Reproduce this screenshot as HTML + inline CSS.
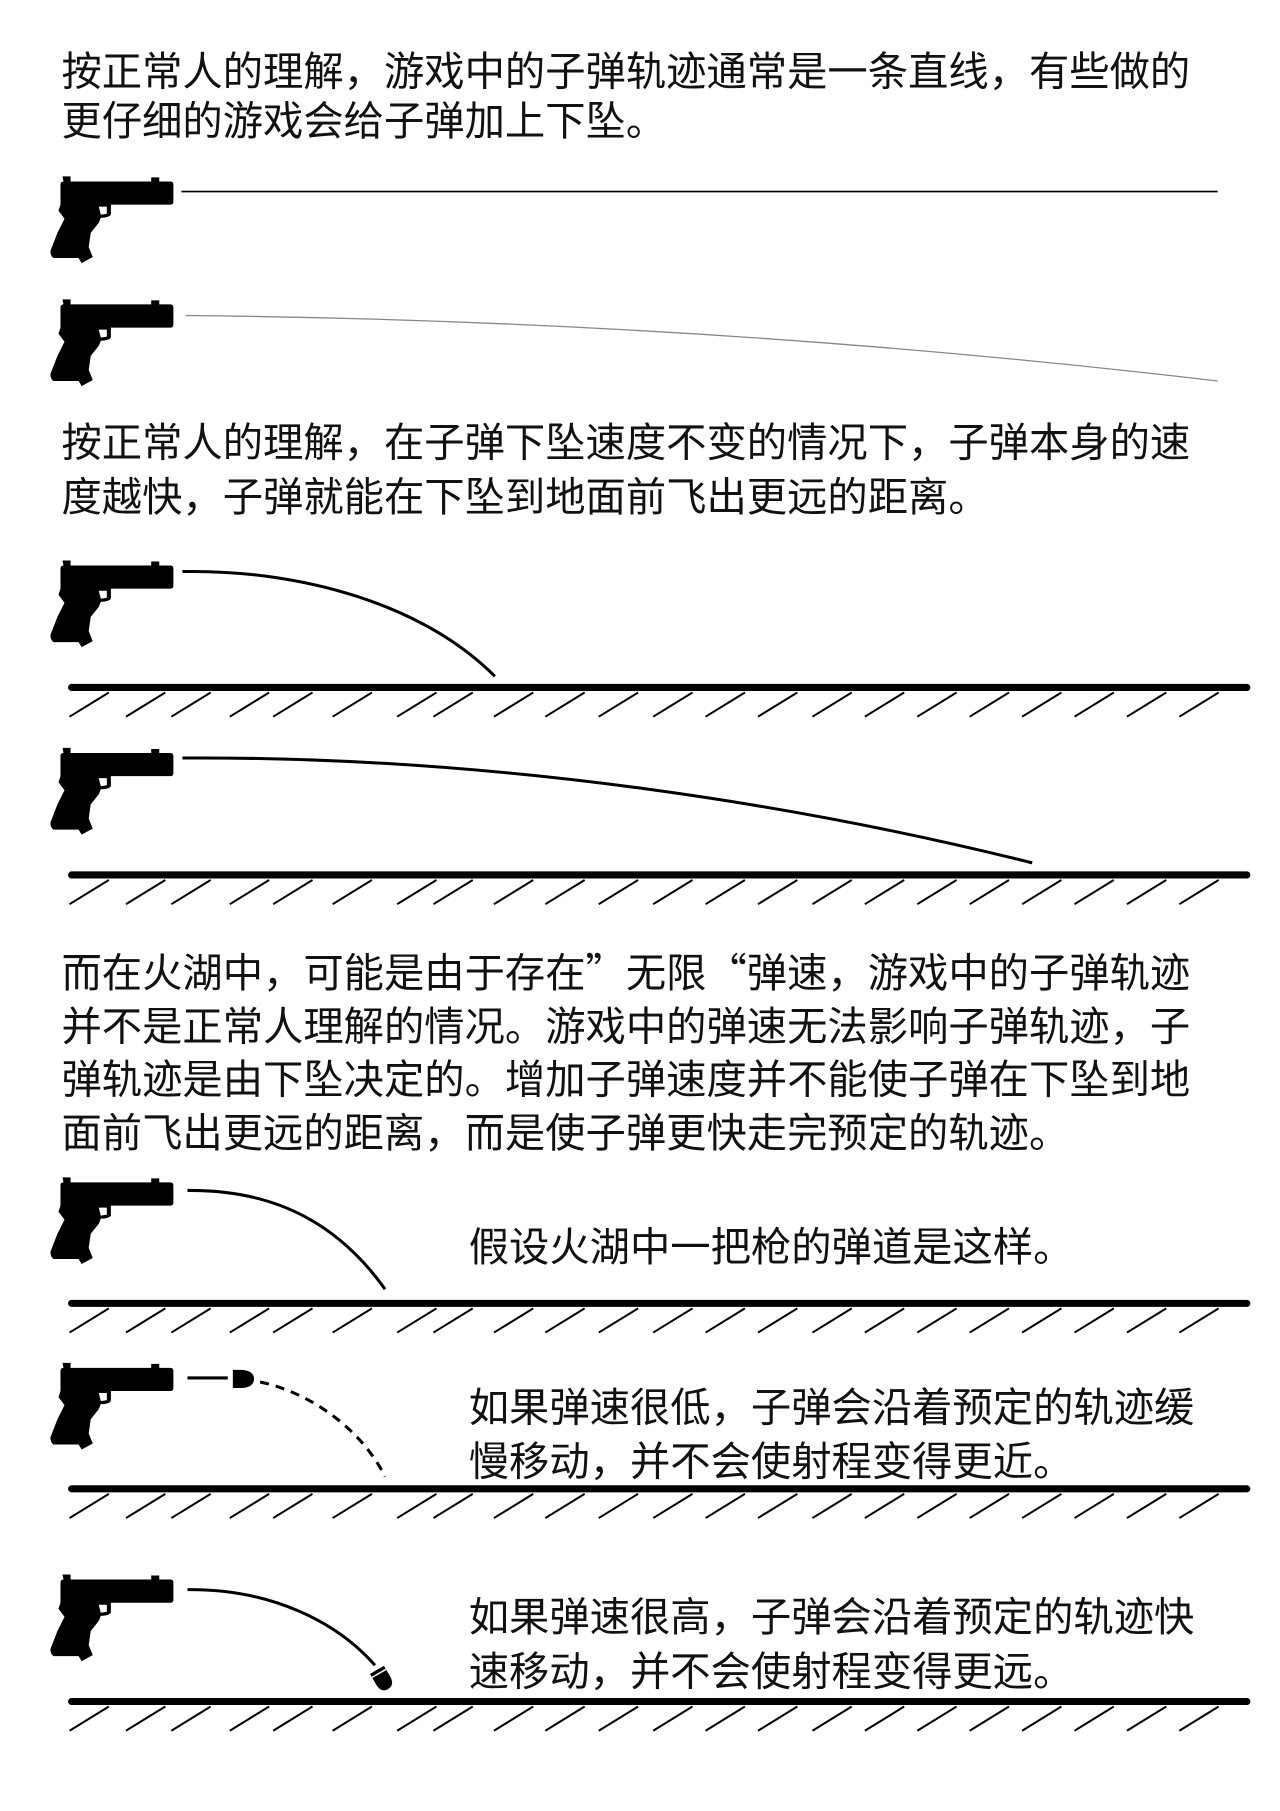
<!DOCTYPE html>
<html><head><meta charset="utf-8"><style>
html,body{margin:0;padding:0;background:#fff}
svg{display:block}
text{font-family:"Noto Sans CJK SC","Liberation Sans",sans-serif;font-size:40px;fill:#111}
</style></head><body>
<svg width="1280" height="1811" viewBox="0 0 1280 1811" xmlns="http://www.w3.org/2000/svg">
<defs>
<g id="gun">
<path d="M10 8 Q10 5 13 5 L12 0 L20 0 L20 5 L100 5 L100 1 L108 1 L108 5 L119 5 Q122 5 122 8 L122 25 Q122 28 119 28 L60 28 L60 38 Q58 41 50 41 L48 46 L40 56 L38 70 L42 80 L31 86 L28 81 L3 81 Q0 79 0 74 L7 56 L14 42 L8 34 L10 28 Z" fill="#000"/>
<path d="M48 30 L56 30 L56 37 L50 38 Z" fill="#fff"/>
</g>
<g id="h" stroke="#000" stroke-width="2">
<line x1="69" y1="25" x2="108" y2="1"/><line x1="125" y1="25" x2="164" y2="1"/><line x1="170" y1="25" x2="209" y2="1"/><line x1="228" y1="25" x2="267" y2="1"/><line x1="271" y1="25" x2="310" y2="1"/><line x1="330" y1="25" x2="369" y2="1"/><line x1="394" y1="25" x2="433" y2="1"/><line x1="430" y1="25" x2="469" y2="1"/><line x1="490" y1="25" x2="529" y2="1"/><line x1="541" y1="25" x2="580" y2="1"/><line x1="594" y1="25" x2="633" y2="1"/><line x1="648" y1="25" x2="687" y2="1"/><line x1="700" y1="25" x2="739" y2="1"/><line x1="752" y1="25" x2="791" y2="1"/><line x1="806" y1="25" x2="845" y2="1"/><line x1="858" y1="25" x2="897" y2="1"/><line x1="910" y1="25" x2="949" y2="1"/><line x1="962" y1="25" x2="1001" y2="1"/><line x1="1014" y1="25" x2="1053" y2="1"/><line x1="1066" y1="25" x2="1105" y2="1"/><line x1="1118" y1="25" x2="1157" y2="1"/><line x1="1170" y1="25" x2="1209" y2="1"/>
</g>
</defs>
<g transform="scale(1.008)">
<text x="61" y="85">按正常人的理解，游戏中的子弹轨迹通常是一条直线，有些做的</text>
<text x="61" y="134">更仔细的游戏会给子弹加上下坠。</text>

<use href="#gun" x="50" y="175"/>
<line x1="180" y1="190" x2="1208" y2="190" stroke="#000" stroke-width="1.6"/>

<use href="#gun" x="50" y="297"/>
<path d="M184 313 Q700 318 1208 378" fill="none" stroke="#888" stroke-width="1.3"/>

<text x="61" y="453">按正常人的理解，在子弹下坠速度不变的情况下，子弹本身的速</text>
<text x="61" y="507">度越快，子弹就能在下坠到地面前飞出更远的距离。</text>

<use href="#gun" x="50" y="556"/>
<path d="M181 567 C300 565 420 600 491 671" fill="none" stroke="#000" stroke-width="3"/>
<line x1="71" y1="682" x2="1237" y2="682" stroke="#000" stroke-width="7" stroke-linecap="round"/>
<use href="#h" y="686"/>

<use href="#gun" x="50" y="742"/>
<path d="M181 752 C500 750 800 800 1024 856" fill="none" stroke="#000" stroke-width="3"/>
<line x1="71" y1="868" x2="1237" y2="868" stroke="#000" stroke-width="7" stroke-linecap="round"/>
<use href="#h" y="872"/>

<text x="61" y="979">而在火湖中，可能是由于存在”无限“弹速，游戏中的子弹轨迹</text>
<text x="61" y="1032">并不是正常人理解的情况。游戏中的弹速无法影响子弹轨迹，子</text>
<text x="61" y="1085">弹轨迹是由下坠决定的。增加子弹速度并不能使子弹在下坠到地</text>
<text x="61" y="1138">面前飞出更远的距离，而是使子弹更快走完预定的轨迹。</text>

<use href="#gun" x="50" y="1168"/>
<path d="M186 1181 C280 1180 340 1220 382 1279" fill="none" stroke="#000" stroke-width="3"/>
<text x="465" y="1251">假设火湖中一把枪的弹道是这样。</text>
<line x1="71" y1="1293" x2="1237" y2="1293" stroke="#000" stroke-width="7" stroke-linecap="round"/>
<use href="#h" y="1297"/>

<use href="#gun" x="50" y="1352"/>
<line x1="186" y1="1367" x2="226" y2="1367" stroke="#000" stroke-width="3"/>
<path d="M231 1359 L240 1359 Q252 1360 252 1368 Q252 1376 240 1377 L231 1377 Z" fill="#000"/>
<path d="M258 1371 C310 1382 360 1420 382 1465" fill="none" stroke="#000" stroke-width="3" stroke-dasharray="9,7"/>
<text x="465" y="1410">如果弹速很低，子弹会沿着预定的轨迹缓</text>
<text x="465" y="1464">慢移动，并不会使射程变得更近。</text>
<line x1="71" y1="1477" x2="1237" y2="1477" stroke="#000" stroke-width="7" stroke-linecap="round"/>
<use href="#h" y="1481"/>

<use href="#gun" x="50" y="1562"/>
<path d="M186 1577 C270 1576 335 1610 372 1652" fill="none" stroke="#000" stroke-width="3"/>
<g transform="translate(380 1667) rotate(-30)"><path d="M-8 -12 L8 -12 L8 0 Q8 10 0 10 Q-8 10 -8 0 Z" fill="#000"/><line x1="-8" y1="-8" x2="8" y2="-8" stroke="#fff" stroke-width="1.5"/></g>
<text x="465" y="1618">如果弹速很高，子弹会沿着预定的轨迹快</text>
<text x="465" y="1672">速移动，并不会使射程变得更远。</text>
<line x1="71" y1="1688" x2="1237" y2="1688" stroke="#000" stroke-width="7" stroke-linecap="round"/>
<use href="#h" y="1692"/>
</g>
</svg>
</body></html>
